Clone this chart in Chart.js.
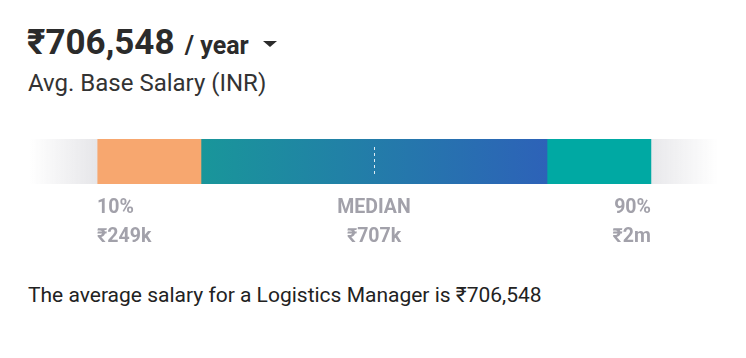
<!DOCTYPE html>
<html>
<head>
<meta charset="utf-8">
<script src="https://cdn.jsdelivr.net/npm/chart.js@4.4.0/dist/chart.umd.min.js"></script>
<style>
    body { margin: 0; background: #fff; font-family: Roboto, sans-serif; width: 746px; height: 358px; overflow: hidden; position: relative; }
    #head { position: absolute; left: 27px; top: 22px; color: #2b2b2b; white-space: nowrap; line-height: 1.2; }
    #head .amt { font-size: 35px; font-weight: 700; }
    #head .per { font-size: 25px; font-weight: 700; margin-left: 4px; }
    #head .caret { display: inline-block; width: 0; height: 0; border-left: 7px solid transparent; border-right: 7px solid transparent; border-top: 6px solid #2b2b2b; margin-left: 14px; vertical-align: 7px; }
    #sub { position: absolute; left: 28px; top: 69px; font-size: 24px; color: #333; line-height: 1.2; }
    #wrap { position: absolute; left: 0; top: 130px; width: 746px; height: 120px; }
    #note { position: absolute; left: 28px; top: 283px; font-size: 21px; color: #222; line-height: 1.2; }
</style>
</head>
<body>
<div id="head"><span class="amt">₹706,548</span><span class="per"> / year</span><span class="caret"></span></div>
<div id="sub">Avg. Base Salary (INR)</div>
<div id="wrap"><canvas id="salaryChart"></canvas></div>
<div id="note">The average salary for a Logistics Manager is ₹706,548</div>

<script>
// band edges along the bar (0-100 scale)
const bandStart = [0, 9.75, 24.85, 75.15, 90.25];
const bandEnd = [9.75, 24.85, 75.15, 90.25, 100];
const bandNames = ['low', 'p10', 'mid', 'p90', 'high'];
const markerPos = [9.75, 50, 90.25];
const markerLabels = ['10%', 'MEDIAN', '90%'];
const markerValues = ['₹249k', '₹707k', '₹2m'];
const medianPos = 50;

function bandColor(ctx, i) {
    const chart = ctx.chart;
    const area = chart.chartArea;
    if (!area) return '#ddd';
    const x = chart.scales.x;
    const c = chart.ctx;
    const x0 = x.getPixelForValue(bandStart[i]);
    const x1 = x.getPixelForValue(bandEnd[i]);
    if (i === 0) {
        const g = c.createLinearGradient(x0, 0, x1, 0);
        g.addColorStop(0, 'rgba(230,230,233,0)');
        g.addColorStop(1, 'rgba(230,230,233,1)');
        return g;
    }
    if (i === 4) {
        const g = c.createLinearGradient(x0, 0, x1, 0);
        g.addColorStop(0, 'rgba(232,232,235,1)');
        g.addColorStop(1, 'rgba(232,232,235,0)');
        return g;
    }
    if (i === 2) {
        const g = c.createLinearGradient(x0, 0, x1, 0);
        g.addColorStop(0, '#19969a');
        g.addColorStop(1, '#2d62b8');
        return g;
    }
    return i === 1 ? '#f7a76f' : '#00a9a3';
}

const labelPlugin = {
    id: 'labelPlugin',
    afterDatasetsDraw(chart) {
        const c = chart.ctx;
        const x = chart.scales.x;
        const area = chart.chartArea;
        // dashed median line
        const mx = Math.round(x.getPixelForValue(medianPos)) + 0.5;
        c.save();
        c.strokeStyle = 'rgba(255,255,255,0.85)';
        c.lineWidth = 1;
        c.setLineDash([3, 3]);
        c.beginPath();
        c.moveTo(mx, area.top + 8);
        c.lineTo(mx, area.bottom - 7);
        c.stroke();
        c.setLineDash([]);
        // percentile labels
        c.fillStyle = '#a2a1aa';
        c.font = 'bold 19.5px Roboto, sans-serif';
        c.textBaseline = 'middle';
        const aligns = ['left', 'center', 'right'];
        markerPos.forEach((p, i) => {
            const px = x.getPixelForValue(p);
            c.textAlign = aligns[i];
            c.fillText(markerLabels[i], px, area.bottom + 24);
            c.fillText(markerValues[i], px, area.bottom + 53);
        });
        c.restore();
    }
};

const ctx = document.getElementById('salaryChart').getContext('2d');
const salaryChart = new Chart(ctx, {
    type: 'bar',
    data: {
        labels: ['range'],
        datasets: bandNames.map((name, i) => ({
            label: name,
            data: [[bandStart[i], bandEnd[i]]],
            backgroundColor: (c) => bandColor(c, i),
            borderWidth: 0,
            grouped: false,
            barPercentage: 1,
            categoryPercentage: 1
        }))
    },
    options: {
        indexAxis: 'y',
        responsive: true,
        maintainAspectRatio: false,
        animation: false,
        layout: { padding: { left: 30, right: 28, top: 9, bottom: 66 } },
        plugins: { legend: { display: false }, tooltip: { enabled: false } },
        scales: {
            x: { display: false, min: 0, max: 100 },
            y: { display: false }
        }
    },
    plugins: [labelPlugin]
});
</script>
</body>
</html>
